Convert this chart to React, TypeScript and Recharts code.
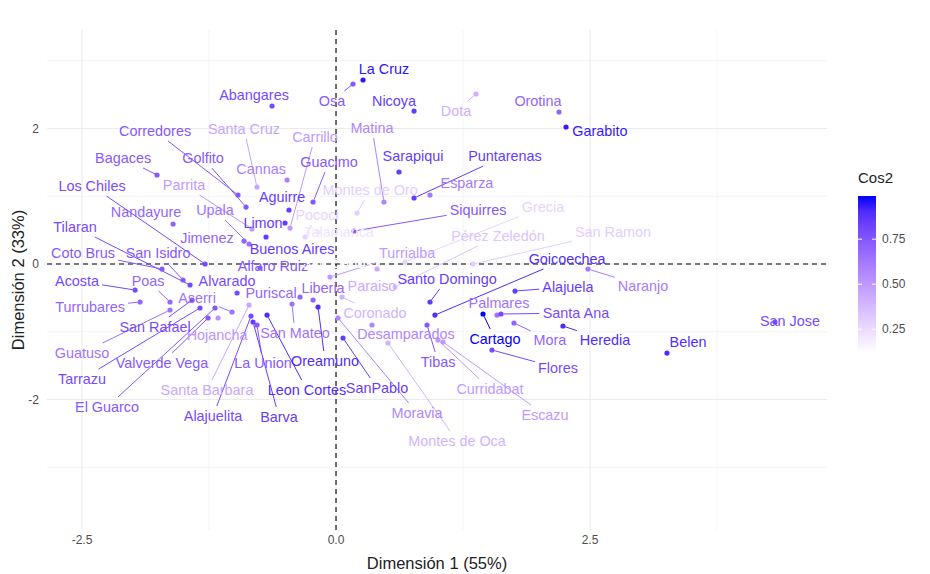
import React from 'react';
import { ScatterChart, Scatter, XAxis, YAxis, ReferenceLine } from 'recharts';

// PCA individuals map, cantons of Costa Rica coloured by cos2
const cantons = [
  'La Cruz', 'Osa', 'Nicoya', 'Dota', 'Orotina', 'Garabito', 'Abangares', 'Corredores',
  'Santa Cruz', 'Bagaces', 'Golfito', 'Cannas', 'Carrillo', 'Guacimo', 'Matina', 'Sarapiqui',
  'Puntarenas', 'Esparza', 'Montes de Oro', 'Siquirres', 'Grecia', 'Pococi', 'Talamanca', 'Parrita',
  'Los Chiles', 'Nandayure', 'Upala', 'Aguirre', 'Limon', 'Jimenez', 'Buenos Aires', 'Alfaro Ruiz',
  'Tilaran', 'Coto Brus', 'San Isidro', 'Acosta', 'Poas', 'Alvarado', 'Turrubares', 'Aserri',
  'Puriscal', 'San Carlos', 'Liberia', 'Turrialba', 'Paraiso', 'Pérez Zeledón', 'San Ramon', 'Goicoechea',
  'Santo Domingo', 'Alajuela', 'Naranjo', 'Palmares', 'Santa Ana', 'Heredia', 'Mora', 'Cartago',
  'Flores', 'Belen', 'San Jose', 'Coronado', 'Desamparados', 'Tibas', 'Curridabat', 'Escazu',
  'Montes de Oca', 'Moravia', 'SanPablo', 'Oreamuno', 'San Mateo', 'La Union', 'Leon Cortes', 'Barva',
  'Alajuelita', 'Santa Barbara', 'Hojancha', 'Valverde Vega', 'San Rafael', 'Guatuso', 'Tarrazu', 'El Guarco',
];

const dim1 = [
  0.266, 0.167, 0.768, 1.378, 2.195, 2.264, -0.630, -0.965,
  -0.778, -1.762, -0.886, -0.482, -0.453, -0.226, 0.472, 0.620,
  0.768, 0.925, 0.207, 0.177, 0.679, -0.305, -0.177, -0.827,
  -1.289, -1.604, -0.856, -0.463, -0.502, -0.906, -0.689, -0.748,
  -1.437, -1.713, -1.506, -1.978, -1.634, -0.974, -1.929, -1.024,
  -0.354, -0.394, -0.226, -0.059, 0.404, 0.581, 1.348, 0.974,
  0.925, 1.762, 2.480, 1.585, 1.624, 2.234, 1.752, 1.447,
  1.535, 3.258, 4.321, 0.059, 0.354, 0.896, 1.004, 1.053,
  0.512, 0.020, 0.069, -0.177, -0.433, -0.778, -0.679, -0.817,
  -0.837, -0.856, -1.161, -1.260, -1.417, -1.634, -1.339, -1.191,
];

const dim2 = [
  2.716, 2.657, 2.258, 2.509, 2.244, 2.022, 2.332, 1.018,
  1.137, 1.314, 0.841, 1.240, 0.531, 0.915, 0.915, 1.358,
  0.974, 1.018, 0.753, 0.487, 0.030, 0.399, 0.472, 0.517,
  0.000, 0.590, 0.295, 0.797, 0.605, 0.339, 0.399, -0.059,
  -0.310, -0.074, -0.236, -0.384, -0.561, -0.428, -0.561, -0.708,
  -0.487, -0.118, -0.531, -0.192, -0.074, -0.339, 0.000, -0.753,
  -0.561, -0.399, -0.074, -0.753, -0.738, -0.915, -0.871, -0.738,
  -1.269, -1.314, -0.856, -0.487, -0.900, -0.900, -1.122, -1.151,
  -1.166, -0.797, -1.092, -0.635, -0.590, -0.900, -0.753, -0.856,
  -0.768, -0.605, -0.797, -0.797, -0.531, -0.679, -0.649, -0.649,
];

const cos2 = [
  0.96, 0.75, 0.85, 0.42, 0.70, 0.95, 0.80, 0.75,
  0.46, 0.75, 0.75, 0.60, 0.50, 0.75, 0.58, 0.85,
  0.85, 0.62, 0.30, 0.75, 0.28, 0.28, 0.22, 0.50,
  0.80, 0.70, 0.65, 0.85, 0.85, 0.70, 0.85, 0.75,
  0.80, 0.75, 0.75, 0.80, 0.70, 0.80, 0.70, 0.65,
  0.70, 0.12, 0.70, 0.50, 0.44, 0.34, 0.30, 0.90,
  0.85, 0.85, 0.62, 0.65, 0.80, 0.90, 0.70, 0.99,
  0.80, 0.90, 0.80, 0.40, 0.58, 0.75, 0.50, 0.50,
  0.40, 0.58, 0.85, 0.90, 0.65, 0.75, 0.90, 0.85,
  0.80, 0.45, 0.52, 0.75, 0.80, 0.65, 0.80, 0.75,
];

// where the repelled labels ended up (same units as the dimensions)
const labelDim1 = [
  0.472, -0.039, 0.571, 1.181, 1.988, 2.598, -0.807, -1.781,
  -0.906, -2.096, -1.309, -0.738, -0.207, -0.069, 0.354, 0.758,
  1.663, 1.289, 0.335, 1.398, 2.037, -0.187, 0.030, -1.496,
  -2.402, -1.870, -1.191, -0.531, -0.719, -1.270, -0.433, -0.620,
  -2.569, -2.490, -1.752, -2.549, -1.850, -1.073, -2.421, -1.368,
  -0.640, 0.010, -0.128, 0.699, 0.354, 1.594, 2.726, 2.274,
  1.093, 2.283, 3.022, 1.604, 2.362, 2.648, 2.106, 1.565,
  2.185, 3.465, 4.469, 0.384, 0.689, 1.004, 1.516, 2.057,
  1.191, 0.797, 0.404, -0.108, -0.404, -0.719, -0.285, -0.561,
  -1.211, -1.270, -1.171, -1.713, -1.781, -2.500, -2.500, -2.254,
];

const labelDim2 = [
  2.878, 2.406, 2.406, 2.258, 2.406, 1.963, 2.494, 1.963,
  1.993, 1.565, 1.565, 1.402, 1.875, 1.506, 2.007, 1.594,
  1.594, 1.196, 1.092, 0.797, 0.841, 0.723, 0.472, 1.166,
  1.151, 0.768, 0.797, 0.989, 0.605, 0.384, 0.221, -0.030,
  0.546, 0.162, 0.162, -0.251, -0.251, -0.251, -0.635, -0.502,
  -0.428, 0.015, -0.354, 0.162, -0.325, 0.413, 0.472, 0.074,
  -0.221, -0.339, -0.325, -0.576, -0.723, -1.122, -1.122, -1.107,
  -1.535, -1.151, -0.841, -0.723, -1.033, -1.446, -1.845, -2.229,
  -2.613, -2.199, -1.830, -1.432, -1.018, -1.461, -1.860, -2.258,
  -2.244, -1.860, -1.048, -1.461, -0.930, -1.314, -1.697, -2.111,
];

const xTicks = [-2.5, 0, 2.5];
const yTicks = [-2, 0, 2];
const xMinor = [-1.25, 1.25, 3.75];
const yMinor = [-3, -1, 1, 3];
const cos2Breaks = [0.25, 0.5, 0.75];

const X_DOMAIN = [-2.845, 4.833];
const Y_DOMAIN = [-3.926, 3.454];
const W = 930;
const H = 574;
const M = { top: 30, right: 103, bottom: 0, left: 0 };
const Y_AXIS_W = 47;
const X_AXIS_H = 44;
const PLOT_W = W - M.right - Y_AXIS_W;
const PLOT_H = H - M.top - X_AXIS_H;
const PX_X = PLOT_W / (X_DOMAIN[1] - X_DOMAIN[0]);
const PX_Y = PLOT_H / (Y_DOMAIN[1] - Y_DOMAIN[0]);

const FONT = '"Liberation Sans", Arial, Helvetica, sans-serif';
const LABEL_SIZE = 14.4;

// white -> blue in Lab space, like scale_color_gradient
const lin = (c: number) => {
  c /= 255;
  return c <= 0.04045 ? c / 12.92 : Math.pow((c + 0.055) / 1.055, 2.4);
};
const gam = (c: number) => {
  const v = c <= 0.0031308 ? 12.92 * c : 1.055 * Math.pow(c, 1 / 2.4) - 0.055;
  return Math.round(Math.max(0, Math.min(1, v)) * 255);
};
const toLab = (rgb: number[]) => {
  const [R, G, B] = rgb.map(lin);
  const X = (0.4124 * R + 0.3576 * G + 0.1805 * B) / 0.95047;
  const Y = 0.2126 * R + 0.7152 * G + 0.0722 * B;
  const Z = (0.0193 * R + 0.1192 * G + 0.9505 * B) / 1.08883;
  const f = (t: number) => (t > 0.008856 ? Math.cbrt(t) : 7.787 * t + 16 / 116);
  return [116 * f(Y) - 16, 500 * (f(X) - f(Y)), 200 * (f(Y) - f(Z))];
};
const fromLab = ([L, a, b]: number[]) => {
  const fy = (L + 16) / 116;
  const fx = fy + a / 500;
  const fz = fy - b / 200;
  const inv = (t: number) => (t * t * t > 0.008856 ? t * t * t : (t - 16 / 116) / 7.787);
  const X = inv(fx) * 0.95047;
  const Y = inv(fy);
  const Z = inv(fz) * 1.08883;
  const r = 3.2406 * X - 1.5372 * Y - 0.4986 * Z;
  const g = -0.9689 * X + 1.8758 * Y + 0.0415 * Z;
  const bb = 0.0557 * X - 0.204 * Y + 1.057 * Z;
  return `rgb(${gam(r)},${gam(g)},${gam(bb)})`;
};
const LAB_LOW = toLab([255, 255, 255]);
const LAB_HIGH = toLab([0, 0, 255]);
const COS2_MIN = Math.min(...cos2);
const COS2_MAX = Math.max(...cos2);
const cos2Color = (v: number) => {
  const t = (v - COS2_MIN) / (COS2_MAX - COS2_MIN);
  return fromLab(LAB_LOW.map((l, i) => l + t * (LAB_HIGH[i] - l)));
};

let ctx: CanvasRenderingContext2D | null = null;
const textWidth = (s: string) => {
  if (!ctx) {
    ctx = document.createElement('canvas').getContext('2d');
    if (ctx) ctx.font = `${LABEL_SIZE}px ${FONT}`;
  }
  return ctx ? ctx.measureText(s).width : s.length * LABEL_SIZE * 0.55;
};

const points = cantons.map((name, i) => ({ name, x: dim1[i], y: dim2[i], color: cos2Color(cos2[i]) }));
const labels = cantons.map((name, i) => ({ name, x: labelDim1[i], y: labelDim2[i], color: cos2Color(cos2[i]) }));

// segment from the label box edge to its point, as ggrepel does
const segments = labels
  .map((l, i) => {
    const p = points[i];
    const dx = (p.x - l.x) * PX_X;
    const dy = (p.y - l.y) * PX_Y;
    const hw = textWidth(l.name) / 2 + 3;
    const hh = 10;
    const t = Math.min(dx ? hw / Math.abs(dx) : Infinity, dy ? hh / Math.abs(dy) : Infinity);
    const dist = Math.hypot(dx, dy);
    const len = (1 - t) * dist;
    if (t >= 1 || len < 9) return null;
    const t2 = 1 - 2.5 / dist;
    return {
      key: l.name,
      color: l.color,
      from: { x: l.x + t * (p.x - l.x), y: l.y + t * (p.y - l.y) },
      to: { x: l.x + t2 * (p.x - l.x), y: l.y + t2 * (p.y - l.y) },
    };
  })
  .filter(Boolean) as { key: string; color: string; from: { x: number; y: number }; to: { x: number; y: number } }[];

const Dot = (props: any) => {
  const { cx, cy, payload } = props;
  if (cx == null || cy == null) return null;
  return <circle cx={cx} cy={cy} r={2.6} fill={payload.color} />;
};

const Label = (props: any) => {
  const { cx, cy, payload } = props;
  if (cx == null || cy == null) return null;
  return (
    <text x={cx} y={cy} dy="0.36em" textAnchor="middle" fontSize={LABEL_SIZE} fontFamily={FONT} fill={payload.color}>
      {payload.name}
    </text>
  );
};

const LEG_TOP = 196;
const LEG_H = (COS2_MAX - COS2_MIN) * 180;
const legY = (v: number) => LEG_TOP + ((COS2_MAX - v) / (COS2_MAX - COS2_MIN)) * LEG_H;
const gradStops = Array.from({ length: 11 }, (_, k) => {
  const v = COS2_MAX - (k / 10) * (COS2_MAX - COS2_MIN);
  return `${cos2Color(v)} ${k * 10}%`;
}).join(', ');

export default function App() {
  return (
    <div style={{ position: 'absolute', left: 0, top: 0, width: W, height: H, background: '#fff', fontFamily: FONT }}>
      <ScatterChart width={W} height={H} margin={M}>
        <XAxis
          type="number"
          dataKey="x"
          domain={X_DOMAIN}
          allowDataOverflow
          ticks={xTicks}
          tickFormatter={(v: number) => v.toFixed(1)}
          axisLine={false}
          tickLine={false}
          tickSize={0}
          tickMargin={5}
          height={X_AXIS_H}
          tick={{ fill: '#4d4d4d', fontSize: 12, fontFamily: FONT }}
        />
        <YAxis
          type="number"
          dataKey="y"
          domain={Y_DOMAIN}
          allowDataOverflow
          ticks={yTicks}
          axisLine={false}
          tickLine={false}
          tickSize={0}
          tickMargin={8}
          width={Y_AXIS_W}
          tick={{ fill: '#4d4d4d', fontSize: 12, fontFamily: FONT }}
        />
        {xMinor.map((v) => (
          <ReferenceLine key={`xm${v}`} x={v} stroke="#ebebeb" strokeWidth={0.6} />
        ))}
        {yMinor.map((v) => (
          <ReferenceLine key={`ym${v}`} y={v} stroke="#ebebeb" strokeWidth={0.6} />
        ))}
        {xTicks.map((v) => (
          <ReferenceLine key={`xM${v}`} x={v} stroke="#ebebeb" strokeWidth={1.1} />
        ))}
        {yTicks.map((v) => (
          <ReferenceLine key={`yM${v}`} y={v} stroke="#ebebeb" strokeWidth={1.1} />
        ))}
        <ReferenceLine x={0} stroke="#000" strokeWidth={1.1} strokeDasharray="5 4" />
        <ReferenceLine y={0} stroke="#000" strokeWidth={1.1} strokeDasharray="5 4" />
        <Scatter data={points} shape={<Dot />} isAnimationActive={false} />
        {segments.map((s) => (
          <ReferenceLine key={s.key} segment={[s.from, s.to]} stroke={s.color} strokeWidth={1} ifOverflow="visible" />
        ))}
        <Scatter data={labels} shape={<Label />} isAnimationActive={false} />
      </ScatterChart>

      <svg width={W} height={H} style={{ position: 'absolute', left: 0, top: 0, pointerEvents: 'none' }}>
        <text x={437} y={563} textAnchor="middle" dominantBaseline="central" fontSize={16.5} fill="#222" fontFamily={FONT}>
          Dimensión 1 (55%)
        </text>
        <text
          x={18}
          y={280}
          transform="rotate(-90 18 280)"
          textAnchor="middle"
          dominantBaseline="central"
          fontSize={16.5}
          fill="#222"
          fontFamily={FONT}
        >
          Dimensión 2 (33%)
        </text>
        <text x={858} y={177} dominantBaseline="central" fontSize={15} fill="#222" fontFamily={FONT}>
          Cos2
        </text>
        {cos2Breaks.map((b) => (
          <text key={b} x={882} y={legY(b)} dominantBaseline="central" fontSize={12} fill="#4d4d4d" fontFamily={FONT}>
            {b.toFixed(2)}
          </text>
        ))}
      </svg>
      <div
        style={{
          position: 'absolute',
          left: 858,
          top: LEG_TOP,
          width: 18,
          height: LEG_H,
          background: `linear-gradient(to bottom, ${gradStops})`,
        }}
      />
      <svg width={W} height={H} style={{ position: 'absolute', left: 0, top: 0, pointerEvents: 'none' }}>
        {cos2Breaks.map((b) => (
          <g key={b} stroke="#fff" strokeWidth={1}>
            <line x1={858} x2={862} y1={legY(b)} y2={legY(b)} />
            <line x1={872} x2={876} y1={legY(b)} y2={legY(b)} />
          </g>
        ))}
      </svg>
    </div>
  );
}
